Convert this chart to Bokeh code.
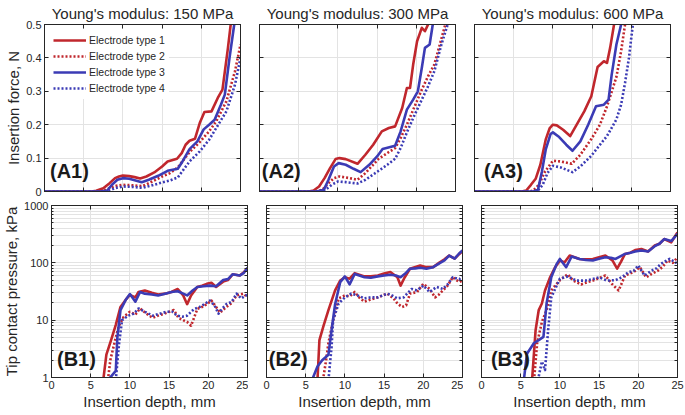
from bokeh.plotting import figure
from bokeh.layouts import column, row
from bokeh.models import (Range1d, LinearAxis, LogAxis, FixedTicker, Legend,
                          LegendItem, Label)
from bokeh.embed import file_html
from bokeh.resources import INLINE

# ---------------- data ----------------
TITLES = ["Young's modulus: 150 MPa", "Young's modulus: 300 MPa", "Young's modulus: 600 MPa"]
SERIES_NAMES = ["Electrode type 1", "Electrode type 2", "Electrode type 3", "Electrode type 4"]
PANEL_TAGS_TOP = ["(A1)", "(A2)", "(A3)"]
PANEL_TAGS_BOTTOM = ["(B1)", "(B2)", "(B3)"]
X_TICKS = [0, 5, 10, 15, 20, 25]
FORCE_TICKS = [0, 0.1, 0.2, 0.3, 0.4, 0.5]
FORCE_TICK_LABELS = ["0", "0.1", "0.2", "0.3", "0.4", "0.5"]
PRESSURE_TICKS = [1, 10, 100, 1000]
PRESSURE_TICK_LABELS = ["1", "10", "100", "1000"]
PRESSURE_MINOR = [2, 3, 4, 5, 6, 7, 8, 9, 20, 30, 40, 50, 60, 70, 80, 90,
                  200, 300, 400, 500, 600, 700, 800, 900]

# Insertion force (N) -- 150 MPa
F150_T1_X = [0, 6.0, 6.6, 7.5, 8.3, 9.0, 9.5, 10.0, 10.8, 11.5, 12.2, 13.0, 14.0, 15.0, 15.7, 16.9, 17.5, 18.0, 18.5, 19.2, 19.8, 20.4, 21.3, 22.1, 22.7, 23.4, 23.8, 24.2, 25]
F150_T1_Y = [0, 0, 0.002, 0.01, 0.025, 0.04, 0.045, 0.048, 0.046, 0.043, 0.039, 0.045, 0.057, 0.075, 0.09, 0.098, 0.115, 0.14, 0.152, 0.158, 0.205, 0.238, 0.24, 0.28, 0.305, 0.43, 0.51, 0.6, 0.8]
F150_T2_X = [0, 7.0, 7.6, 8.5, 9.3, 10.0, 11.0, 12.5, 13.5, 15.0, 16.0, 17.0, 18.5, 19.8, 21.0, 21.9, 23.2, 24.3, 25]
F150_T2_Y = [0, 0, 0.003, 0.012, 0.018, 0.02, 0.019, 0.016, 0.027, 0.045, 0.055, 0.072, 0.118, 0.148, 0.18, 0.21, 0.27, 0.36, 0.44]
F150_T3_X = [0, 7.2, 8.0, 8.6, 9.3, 10.0, 10.8, 11.5, 12.4, 13.3, 14.5, 15.7, 17.0, 17.6, 18.5, 19.5, 20.3, 21.0, 21.7, 22.5, 23.0, 23.6, 24.2, 25]
F150_T3_Y = [0, 0, 0.003, 0.02, 0.035, 0.04, 0.038, 0.034, 0.028, 0.035, 0.047, 0.062, 0.068, 0.09, 0.127, 0.15, 0.186, 0.2, 0.215, 0.26, 0.29, 0.4, 0.5, 0.7]
F150_T4_X = [0, 7.6, 8.2, 9.0, 10.0, 11.0, 12.5, 13.5, 15.0, 16.0, 17.0, 18.5, 19.8, 21.0, 21.9, 23.2, 24.3, 25]
F150_T4_Y = [0, 0, 0.002, 0.01, 0.015, 0.014, 0.011, 0.017, 0.027, 0.033, 0.042, 0.09, 0.12, 0.155, 0.19, 0.24, 0.32, 0.40]

# Insertion force (N) -- 300 MPa
F300_T1_X = [0, 6.3, 6.9, 7.6, 8.3, 9.0, 9.7, 10.2, 11.0, 12.5, 13.5, 14.5, 15.6, 16.5, 17.3, 18.2, 18.8, 19.2, 19.6, 20.1, 20.7, 21.1, 21.7, 22.5]
F300_T1_Y = [0, 0, 0.003, 0.015, 0.04, 0.07, 0.097, 0.1, 0.097, 0.083, 0.11, 0.14, 0.18, 0.19, 0.195, 0.25, 0.31, 0.31, 0.38, 0.45, 0.49, 0.48, 0.51, 0.7]
F300_T2_X = [0, 7.3, 8.0, 8.8, 9.5, 10.2, 11.5, 12.5, 13.5, 15.2, 16.3, 17.3, 18.0, 18.8, 19.7, 20.7, 21.5, 22.3, 23.0, 23.7, 24.5]
F300_T2_Y = [0, 0, 0.005, 0.025, 0.04, 0.045, 0.04, 0.035, 0.055, 0.098, 0.115, 0.13, 0.16, 0.2, 0.25, 0.305, 0.345, 0.38, 0.44, 0.5, 0.62]
F300_T3_X = [0, 7.3, 8.2, 8.8, 9.5, 10.1, 11.0, 12.0, 12.9, 14.0, 15.0, 15.7, 17.3, 18.0, 18.8, 19.6, 20.2, 20.7, 21.1, 21.7, 22.1, 23]
F300_T3_Y = [0, 0, 0.005, 0.035, 0.075, 0.085, 0.08, 0.068, 0.058, 0.08, 0.105, 0.127, 0.137, 0.18, 0.245, 0.275, 0.3, 0.37, 0.43, 0.44, 0.5, 0.7]
F300_T4_X = [0, 7.7, 8.4, 9.2, 10.0, 11.0, 12.5, 13.5, 15.2, 16.3, 17.3, 18.0, 18.8, 19.7, 20.7, 21.5, 22.3, 23.2, 24.0, 25]
F300_T4_Y = [0, 0, 0.005, 0.02, 0.03, 0.028, 0.024, 0.035, 0.062, 0.08, 0.098, 0.13, 0.177, 0.225, 0.275, 0.315, 0.36, 0.44, 0.5, 0.65]

# Insertion force (N) -- 600 MPa
F600_T1_X = [0, 6.0, 6.6, 7.2, 7.8, 8.4, 9.1, 9.6, 10.0, 10.5, 11.3, 12.2, 13.2, 14.0, 14.9, 15.7, 16.5, 16.9, 17.3, 17.8, 18.5]
F600_T1_Y = [0, 0, 0.003, 0.02, 0.038, 0.08, 0.157, 0.19, 0.2, 0.198, 0.185, 0.166, 0.207, 0.24, 0.285, 0.373, 0.39, 0.385, 0.43, 0.5, 0.65]
F600_T2_X = [0, 7.0, 7.5, 8.2, 9.0, 10.0, 11.0, 12.4, 13.5, 14.9, 16.0, 16.9, 18.1, 18.7, 19.2, 19.8]
F600_T2_Y = [0, 0, 0.003, 0.02, 0.06, 0.092, 0.09, 0.083, 0.11, 0.157, 0.2, 0.255, 0.343, 0.42, 0.5, 0.6]
F600_T3_X = [0, 7.5, 8.1, 8.6, 9.1, 9.7, 10.0, 10.8, 11.7, 12.5, 13.5, 14.5, 15.5, 16.5, 17.1, 17.5, 18.1, 18.7, 19.3]
F600_T3_Y = [0, 0, 0.005, 0.06, 0.127, 0.172, 0.177, 0.163, 0.14, 0.122, 0.15, 0.2, 0.255, 0.26, 0.275, 0.35, 0.44, 0.5, 0.62]
F600_T4_X = [0, 7.6, 8.1, 8.7, 9.3, 10.0, 11.0, 12.5, 13.5, 14.9, 16.0, 16.9, 18.1, 18.7, 19.2, 19.7, 20.2, 21]
F600_T4_Y = [0, 0, 0.003, 0.02, 0.055, 0.077, 0.072, 0.058, 0.075, 0.107, 0.14, 0.166, 0.216, 0.26, 0.325, 0.4, 0.5, 0.65]

# Tip contact pressure (kPa) -- 150 MPa
P150_T1_X = [6.6, 7.0, 7.6, 8.2, 8.8, 9.5, 10.0, 10.7, 11.1, 11.9, 12.8, 13.6, 14.5, 15.3, 16.1, 16.8, 17.3, 17.8, 18.6, 19.2, 19.8, 20.4, 21.0, 21.9, 22.5, 23.1, 24.0, 24.5, 25]
P150_T1_Y = [0.9, 2.5, 4.5, 8.3, 17, 23, 27.5, 25, 31, 33, 30, 28, 29, 31, 35, 27, 19, 27, 38, 40, 43, 45, 38, 47, 50, 63, 60, 68, 80]
P150_T2_X = [7.2, 7.5, 8.2, 8.6, 9.2, 10.0, 10.7, 11.3, 12.1, 12.9, 13.6, 14.4, 15.6, 16.2, 16.8, 17.3, 17.8, 18.6, 19.2, 19.8, 20.4, 21.0, 21.5, 22.3, 23.0, 23.6, 24.5, 25]
P150_T2_Y = [0.9, 2, 5, 8, 11.4, 14, 12.5, 16, 13, 11, 12, 13, 15, 11, 10, 9.3, 8, 15.7, 17, 19, 22, 17, 13.5, 17, 20, 27, 29, 25]
P150_T3_X = [7.2, 8.2, 8.4, 8.8, 9.5, 10.0, 10.7, 11.3, 11.9, 12.8, 13.6, 14.5, 15.3, 16.1, 16.8, 17.3, 18.0, 18.6, 19.4, 20.2, 21.0, 21.9, 22.5, 23.1, 24.0, 24.5, 25]
P150_T3_Y = [0.9, 1.3, 5, 15, 23, 28.5, 21, 31, 29, 28, 27, 29, 31, 32, 29, 27, 33, 38, 39, 40, 39, 50, 52, 63, 60, 66, 82]
P150_T4_X = [8.2, 8.6, 9.0, 9.8, 10.5, 11.1, 11.9, 12.9, 13.8, 14.7, 15.4, 16.0, 16.7, 17.3, 18.2, 18.9, 19.5, 20.2, 20.8, 21.3, 21.8, 22.3, 23.0, 23.6, 24.2, 25]
P150_T4_Y = [0.9, 3.7, 10, 12, 13, 16, 14, 12, 13, 14, 14, 12, 11.5, 12, 15.7, 17, 19, 22, 18, 13, 16, 19, 21, 29, 24, 28]

# Tip contact pressure (kPa) -- 300 MPa
P300_T1_X = [6.5, 6.75, 7.3, 7.9, 8.75, 9.4, 10.0, 10.6, 11.25, 12.5, 13.3, 14.2, 15.0, 15.8, 16.7, 17.1, 17.6, 18.3, 19.0, 19.6, 20.4, 21.25, 22.1, 22.7, 23.3, 24.0, 24.6, 25]
P300_T1_Y = [0.9, 4.5, 8.2, 15, 33, 49, 56, 53, 66, 58, 58, 60, 65, 69, 56, 40, 55, 79, 85, 90, 84, 84, 102, 115, 134, 118, 143, 160]
P300_T2_X = [7.2, 7.6, 7.9, 8.5, 9.2, 10.0, 10.6, 11.25, 11.8, 12.5, 13.3, 14.2, 15.4, 16.2, 16.7, 17.3, 17.8, 18.3, 19.2, 20.0, 20.8, 21.5, 22.0, 22.5, 23.1, 23.75, 24.6, 25]
P300_T2_Y = [0.9, 2, 4, 10, 24, 27, 26, 31, 25, 21, 23, 25, 29, 24, 19.5, 17, 18, 29, 31, 43, 35, 25, 28, 33, 40, 56, 46, 50]
P300_T3_X = [5.8, 6.5, 7.1, 7.9, 8.3, 8.75, 9.4, 10.0, 10.6, 11.25, 12.5, 13.3, 14.2, 15.0, 15.8, 16.5, 17.1, 17.7, 18.3, 19.0, 19.6, 20.4, 21.25, 22.1, 22.7, 23.3, 24.0, 24.6, 25]
P300_T3_Y = [0.9, 1.55, 2.0, 2.5, 6.7, 19, 46, 58, 42, 64, 56, 55, 58, 60, 62, 60, 56, 65, 79, 80, 82, 79, 84, 99, 110, 134, 118, 147, 165]
P300_T4_X = [7.9, 8.3, 8.5, 9.2, 10.0, 10.8, 11.6, 12.5, 13.3, 14.2, 15.4, 16.0, 16.7, 17.5, 18.5, 19.2, 20.0, 20.8, 21.7, 22.5, 23.1, 23.75, 24.6, 25]
P300_T4_Y = [0.9, 3.4, 10, 19.5, 25, 29, 27, 24, 25, 25, 29, 27, 24, 25, 35, 33, 40, 31, 38, 35, 42, 56, 52, 58]

# Tip contact pressure (kPa) -- 600 MPa
P600_T1_X = [6.45, 6.9, 7.3, 7.7, 8.1, 8.75, 9.4, 10.0, 10.6, 11.25, 12.5, 13.3, 14.2, 15.0, 15.8, 16.7, 17.3, 17.8, 18.3, 19.0, 19.6, 20.4, 21.25, 22.1, 22.7, 23.3, 24.2, 25]
P600_T1_Y = [0.9, 6.7, 15, 19.5, 33, 56, 84, 110, 102, 134, 117, 115, 117, 125, 134, 110, 79, 105, 143, 150, 167, 174, 158, 200, 215, 260, 228, 340]
P600_T2_X = [6.7, 7.1, 7.7, 8.3, 8.9, 10.0, 11.0, 11.7, 12.7, 13.5, 14.2, 15.0, 15.8, 16.7, 17.5, 18.3, 19.4, 20.2, 21.0, 21.7, 22.5, 23.1, 23.75, 24.4, 25]
P600_T2_Y = [0.9, 4, 9.3, 15, 33, 50, 63, 49, 42, 46, 49, 54, 60, 42, 33, 60, 69, 84, 56, 64, 73, 85, 110, 100, 125]
P600_T3_X = [5.4, 5.8, 6.7, 7.3, 7.9, 8.3, 8.9, 9.6, 10.0, 10.8, 11.5, 12.5, 13.3, 14.2, 15.0, 15.8, 16.5, 17.1, 17.7, 18.3, 19.0, 19.6, 20.4, 21.25, 22.1, 22.7, 23.3, 24.2, 25]
P600_T3_Y = [0.9, 2.6, 4, 4.5, 5.1, 19.5, 56, 96, 117, 84, 129, 117, 112, 110, 118, 125, 122, 117, 130, 143, 150, 158, 164, 158, 195, 215, 260, 240, 320]
P600_T4_X = [7.2, 7.7, 8.1, 8.5, 8.9, 10.0, 11.0, 12.1, 13.3, 14.2, 15.0, 16.0, 17.1, 17.9, 18.75, 19.4, 20.0, 20.8, 21.7, 22.3, 22.9, 24.0, 24.6, 25]
P600_T4_Y = [0.9, 1.9, 1.35, 6.7, 25, 53, 58, 49, 49, 52, 56, 49, 50, 56, 69, 72, 90, 60, 73, 80, 96, 117, 105, 96]

FORCE_DATA = [
    [(F150_T1_X, F150_T1_Y), (F150_T2_X, F150_T2_Y), (F150_T3_X, F150_T3_Y), (F150_T4_X, F150_T4_Y)],
    [(F300_T1_X, F300_T1_Y), (F300_T2_X, F300_T2_Y), (F300_T3_X, F300_T3_Y), (F300_T4_X, F300_T4_Y)],
    [(F600_T1_X, F600_T1_Y), (F600_T2_X, F600_T2_Y), (F600_T3_X, F600_T3_Y), (F600_T4_X, F600_T4_Y)],
]
PRESSURE_DATA = [
    [(P150_T1_X, P150_T1_Y), (P150_T2_X, P150_T2_Y), (P150_T3_X, P150_T3_Y), (P150_T4_X, P150_T4_Y)],
    [(P300_T1_X, P300_T1_Y), (P300_T2_X, P300_T2_Y), (P300_T3_X, P300_T3_Y), (P300_T4_X, P300_T4_Y)],
    [(P600_T1_X, P600_T1_Y), (P600_T2_X, P600_T2_Y), (P600_T3_X, P600_T3_Y), (P600_T4_X, P600_T4_Y)],
]

# ---------------- style ----------------
RED = "#C0272D"
BLUE = "#3B3BB5"
COLORS = [RED, RED, BLUE, BLUE]
DASHES = ["solid", "2 2", "solid", "2 2"]
FONT = "Liberation Sans"
AX = "#262626"
GRID = "#e3e3e3"
FRAME_W = 196
TOP_H = 167
BOT_H = 172
LEFT_BORDERS = [44, 18, 18]
RIGHT_BORDERS = [1, 1, 7]
TAG_X = [0.7, 0.3, 1.2]


def base_axis_style(ax):
    ax.axis_line_color = AX
    ax.major_tick_line_color = AX
    ax.minor_tick_line_color = AX
    ax.major_tick_in = 4
    ax.major_tick_out = 0
    ax.minor_tick_in = 2
    ax.minor_tick_out = 0
    ax.major_label_text_font = FONT
    ax.major_label_text_color = AX
    ax.major_label_text_font_size = "11px"
    ax.major_label_standoff = 3


def set_axis_label(ax, text):
    ax.axis_label = text
    ax.axis_label_text_font = FONT
    ax.axis_label_text_font_size = "15px"
    ax.axis_label_text_font_style = "normal"
    ax.axis_label_text_color = AX
    ax.axis_label_standoff = 1


def make_panel(col, top):
    common = dict(frame_width=FRAME_W, x_range=Range1d(0, 25), output_backend="svg",
                  toolbar_location=None, min_border_left=LEFT_BORDERS[col],
                  min_border_right=RIGHT_BORDERS[col])
    if top:
        p = figure(frame_height=TOP_H, y_range=Range1d(0, 0.5),
                   min_border_top=19, min_border_bottom=7, **common)
        yt = FixedTicker(ticks=FORCE_TICKS)
        y_marks = FixedTicker(ticks=[], minor_ticks=FORCE_TICKS)
        p.title.text = TITLES[col]
        p.title.align = "center"
        p.title.text_font = FONT
        p.title.text_font_size = "15px"
        p.title.text_font_style = "normal"
        p.title.text_color = AX
        p.title.standoff = 5
        p.title.offset = 0
    else:
        p = figure(frame_height=BOT_H, y_range=Range1d(1, 1000), y_axis_type="log",
                   min_border_top=7, min_border_bottom=33, **common)
        yt = FixedTicker(ticks=PRESSURE_TICKS, minor_ticks=PRESSURE_MINOR)
        y_marks = FixedTicker(ticks=[], minor_ticks=PRESSURE_TICKS + PRESSURE_MINOR)
    xt = FixedTicker(ticks=X_TICKS)
    x_marks = FixedTicker(ticks=[], minor_ticks=X_TICKS)

    p.xgrid.ticker = xt
    p.ygrid.ticker = yt
    p.xgrid.grid_line_color = GRID
    p.ygrid.grid_line_color = GRID
    if not top:
        p.ygrid.minor_grid_line_color = GRID
    p.outline_line_color = AX
    p.outline_line_width = 1
    p.background_fill_color = "white"
    p.border_fill_color = "white"

    # bottom x axis
    xa = p.xaxis[0]
    base_axis_style(xa)
    if top:
        xa.ticker = x_marks
        xa.minor_tick_in = 4
    else:
        xa.ticker = xt
        set_axis_label(xa, "Insertion depth, mm")

    # left y axis
    ya = p.yaxis[0]
    base_axis_style(ya)
    if col == 0:
        ya.ticker = yt
        if top:
            ya.major_label_overrides = dict(zip(FORCE_TICKS, FORCE_TICK_LABELS))
            set_axis_label(ya, "Insertion force, N")
        else:
            ya.major_label_overrides = dict(zip(PRESSURE_TICKS, PRESSURE_TICK_LABELS))
            set_axis_label(ya, "Tip contact pressure, kPa")
    else:
        ya.ticker = y_marks
        ya.minor_tick_in = 3 if not top else 4

    # box ticks on top and right (no labels)
    extra_x = LinearAxis(ticker=x_marks)
    base_axis_style(extra_x)
    extra_x.minor_tick_in = 4
    extra_y = LinearAxis(ticker=y_marks) if top else LogAxis(ticker=y_marks)
    base_axis_style(extra_y)
    extra_y.minor_tick_in = 4 if top else 3
    p.add_layout(extra_x, "above")
    p.add_layout(extra_y, "right")

    data = FORCE_DATA[col] if top else PRESSURE_DATA[col]
    renderers = []
    for i, (xs, ys) in enumerate(data):
        r = p.line(xs, ys, line_color=COLORS[i], line_width=2.6,
                   line_dash=DASHES[i], line_join="round")
        renderers.append(r)

    tag = PANEL_TAGS_TOP[col] if top else PANEL_TAGS_BOTTOM[col]
    p.add_layout(Label(x=TAG_X[col], y=0.062 if top else 2.1, text=tag,
                       text_font=FONT, text_font_size="20px", text_font_style="bold",
                       text_color="#1a1a1a", text_baseline="alphabetic"))

    if top and col == 0:
        legend = Legend(items=[LegendItem(label=SERIES_NAMES[i], renderers=[renderers[i]])
                               for i in range(4)],
                        location="top_left", border_line_alpha=0,
                        background_fill_color="white", background_fill_alpha=1,
                        label_text_font=FONT, label_text_font_size="10.5px",
                        label_text_color=AX, glyph_width=33, glyph_height=14,
                        label_height=14, spacing=2, padding=4, margin=5,
                        label_standoff=3)
        p.add_layout(legend)
    return p


top_row = row([make_panel(c, True) for c in range(3)], spacing=0)
bottom_row = row([make_panel(c, False) for c in range(3)], spacing=0)
layout = column([top_row, bottom_row], spacing=0)

open("out.html", "w").write(file_html(layout, INLINE))
